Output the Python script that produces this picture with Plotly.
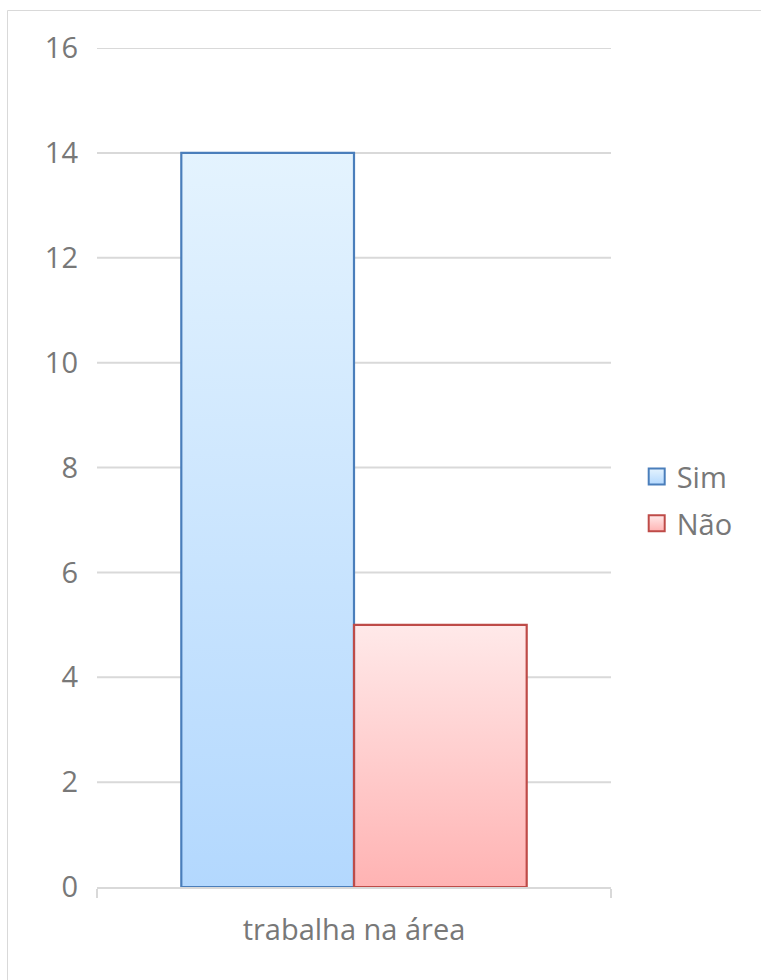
import base64
import plotly.graph_objects as go

# ---- data ----
categories = ["trabalha na área"]
series_names = ["Sim", "Não"]
values_sim = [14]
values_nao = [5]
y_ticks = [0, 2, 4, 6, 8, 10, 12, 14, 16]

# ---- styles ----
FONT = "Open Sans"
TXT = "#787878"
GRID = "#d9d9d9"
BAR_W = 0.336
styles = {
    "Sim": dict(top="#e4f3fe", bottom="#b3d8fe", line="#4a7ebb"),
    "Não": dict(top="#ffe9e9", bottom="#ffb3b3", line="#be4b48"),
}
series_values = {"Sim": values_sim, "Não": values_nao}
offsets = {"Sim": -BAR_W, "Não": 0.0}


def gradient_uri(top, bottom):
    svg = (
        "<svg xmlns='http://www.w3.org/2000/svg' width='10' height='100' "
        "viewBox='0 0 10 100' preserveAspectRatio='none'>"
        "<defs><linearGradient id='g' x1='0' y1='0' x2='0' y2='1'>"
        f"<stop offset='0' stop-color='{top}'/>"
        f"<stop offset='1' stop-color='{bottom}'/>"
        "</linearGradient></defs>"
        "<rect x='0' y='0' width='10' height='100' fill='url(#g)'/></svg>"
    )
    return "data:image/svg+xml;base64," + base64.b64encode(svg.encode()).decode()


fig = go.Figure()
images = []
for name in series_names:
    st = styles[name]
    vals = series_values[name]
    fig.add_trace(go.Bar(
        x=categories, y=vals, name=name, showlegend=False,
        width=BAR_W, offset=offsets[name],
        marker=dict(color="rgba(0,0,0,0)", line=dict(color=st["line"], width=2.2)),
        hoverinfo="skip",
    ))
    for i, v in enumerate(vals):
        images.append(dict(
            source=gradient_uri(st["top"], st["bottom"]),
            xref="x", yref="y", x=i + offsets[name], y=v,
            sizex=BAR_W, sizey=v, xanchor="left", yanchor="top",
            sizing="stretch", layer="below",
        ))
    # legend entry
    fig.add_trace(go.Scatter(
        x=[None], y=[None], mode="markers", name=name, legendgroup=name,
        marker=dict(symbol="square", size=16, color=st["top"],
                    gradient=dict(type="vertical", color=st["bottom"]),
                    line=dict(color=st["line"], width=2)),
    ))

shapes = [
    dict(type="line", xref="paper", yref="y", x0=0, x1=1, y0=t, y1=t,
         line=dict(color=GRID, width=2), layer="below")
    for t in y_ticks[1:]
]
shapes.append(dict(type="rect", xref="paper", yref="paper",
                   x0=-0.1741, x1=1.5, y0=-0.3, y1=1.0447,
                   line=dict(color=GRID, width=1), fillcolor="rgba(0,0,0,0)",
                   layer="below"))

fig.update_layout(
    width=761, height=980,
    margin=dict(l=97, r=150, t=48, b=93),
    paper_bgcolor="white", plot_bgcolor="white",
    barmode="overlay",
    font=dict(family=FONT, size=29, color=TXT),
    images=images,
    shapes=shapes,
    legend=dict(x=1.05, y=0.461, xanchor="left", yanchor="middle",
                font=dict(size=29, color=TXT), tracegroupgap=6,
                bgcolor="rgba(0,0,0,0)"),
    xaxis=dict(
        type="category", range=[-0.5, 0.5], showgrid=False,
        showline=True, linecolor=GRID, linewidth=2,
        ticks="outside", tickson="boundaries", ticklen=9, tickwidth=2,
        tickcolor=GRID, layer="below traces", ticklabelstandoff=16,
        tickfont=dict(family=FONT, size=29, color=TXT),
    ),
    yaxis=dict(
        range=[0, 16], tickvals=y_ticks, showgrid=False, zeroline=False,
        showline=False, ticks="", ticklabelstandoff=18,
        tickfont=dict(family=FONT, size=29, color=TXT),
    ),
)

fig.write_html("out.html")
